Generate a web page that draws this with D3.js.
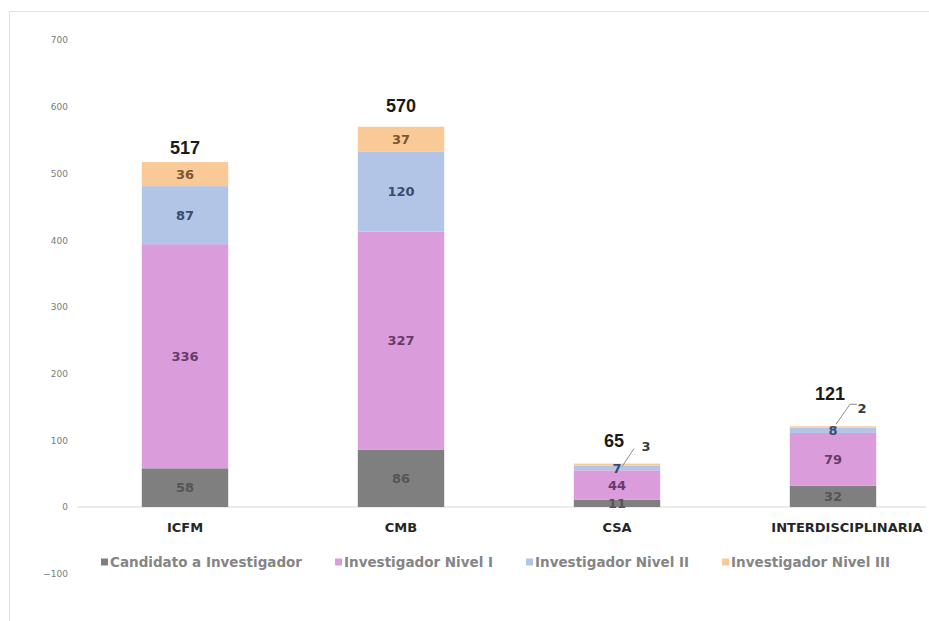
<!DOCTYPE html>
<html>
<head>
<meta charset="utf-8">
<script src="https://cdn.jsdelivr.net/npm/d3@7"></script>
<style>
  body { margin: 0; background: #fff; }
  svg { display: block; }
</style>
</head>
<body>
<svg id="chart" width="929" height="621"></svg>
<script>
// data
var categories = ["ICFM", "CMB", "CSA", "INTERDISCIPLINARIA"];
var series = ["Candidato a Investigador", "Investigador Nivel I", "Investigador Nivel II", "Investigador Nivel III"];
var candidato = [58, 86, 11, 32];
var nivel1 = [336, 327, 44, 79];
var nivel2 = [87, 120, 7, 8];
var nivel3 = [36, 37, 3, 2];
var totals = [517, 570, 65, 121];
var yTicks = [-100, 0, 100, 200, 300, 400, 500, 600, 700];

var colors = ["#7f7f7f", "#da9cdb", "#b3c5e6", "#f9ca98"];
var textColors = ["#555555", "#663d6a", "#3b4b6d", "#7a5730"];

var svg = d3.select("#chart");

// build table for stack
var table = categories.map(function(c, i) {
  return {cat: c, s0: candidato[i], s1: nivel1[i], s2: nivel2[i], s3: nivel3[i], total: totals[i]};
});
var stack = d3.stack().keys(["s0", "s1", "s2", "s3"])(table);

// scales
var x = d3.scaleBand()
    .domain(categories)
    .range([77, 941])
    .paddingInner(0.6)
    .paddingOuter(0.3);
var y = d3.scaleLinear()
    .domain([-100, 700])
    .range([573.7, 40]);

// outer border
svg.append("rect")
    .attr("x", 9.5).attr("y", 11.5)
    .attr("width", 940).attr("height", 640)
    .attr("fill", "none")
    .attr("stroke", "#e3e3e3");

// y axis labels only
var yAxis = svg.append("g")
    .attr("transform", "translate(72,0)")
    .call(d3.axisLeft(y).tickValues(yTicks).tickSize(0).tickPadding(4));
yAxis.select(".domain").remove();
yAxis.selectAll("text")
    .attr("fill", "#7a7a7a")
    .style("font-family", "DejaVu Sans")
    .style("font-size", "9px");

// zero line
svg.append("line")
    .attr("x1", 77).attr("x2", 926)
    .attr("y1", y(0)).attr("y2", y(0))
    .attr("stroke", "#d9d9d9")
    .attr("stroke-width", 1);

// bars
var layers = svg.selectAll("g.layer")
    .data(stack)
    .enter().append("g")
    .attr("class", "layer")
    .attr("fill", function(d, i) { return colors[i]; });

layers.selectAll("rect")
    .data(function(d) { return d; })
    .enter().append("rect")
    .attr("x", function(d) { return x(d.data.cat); })
    .attr("y", function(d) { return y(d[1]); })
    .attr("width", x.bandwidth())
    .attr("height", function(d) { return y(d[0]) - y(d[1]); });

// segment labels (small ones on CSA / INTERDISCIPLINARIA top get a callout)
stack.forEach(function(layer, li) {
  layer.forEach(function(d, ci) {
    var v = d[1] - d[0];
    var cx = x(d.data.cat) + x.bandwidth() / 2;
    if (li == 3 && v < 5) {
      // callout label
      var top = y(d[1]);
      svg.append("text")
        .attr("x", cx + 29).attr("y", top - 13)
        .attr("text-anchor", "middle")
        .style("font-family", "DejaVu Sans")
        .style("font-weight", "bold")
        .style("font-size", "13px")
        .attr("fill", "#3a3a3a")
        .text(v);
      var pts = ci == 2
        ? [[cx + 17, top - 15], [cx + 5, top + 3]]
        : [[cx + 24, top - 22], [cx + 17, top - 22], [cx + 3, top - 2]];
      svg.append("path")
        .attr("d", d3.line()(pts))
        .attr("fill", "none")
        .attr("stroke", "#8c8c8c")
        .attr("stroke-width", 1);
      return;
    }
    svg.append("text")
      .attr("x", cx)
      .attr("y", (y(d[0]) + y(d[1])) / 2)
      .attr("dy", "0.36em")
      .attr("text-anchor", "middle")
      .style("font-family", "DejaVu Sans")
      .style("font-weight", "bold")
      .style("font-size", "13px")
      .attr("fill", textColors[li])
      .text(v);
  });
});

// totals
var totalOffset = [8, 15, 17, 26];
svg.selectAll("text.total")
    .data(table)
    .enter().append("text")
    .attr("class", "total")
    .attr("x", function(d) { return x(d.cat) + x.bandwidth() / 2 - (d.total < 200 ? 3 : 0); })
    .attr("y", function(d, i) { return y(d.total) - totalOffset[i]; })
    .attr("text-anchor", "middle")
    .style("font-family", "Liberation Sans")
    .style("font-weight", "bold")
    .style("font-size", "18px")
    .attr("fill", "#1a1a1a")
    .text(function(d) { return d.total; });

// category labels (the long one sits a bit right, like in the original)
svg.selectAll("text.cat")
    .data(categories)
    .enter().append("text")
    .attr("class", "cat")
    .attr("x", function(d, i) { return x(d) + x.bandwidth() / 2 + (i == 3 ? 14 : 0); })
    .attr("y", y(0) + 25)
    .attr("text-anchor", "middle")
    .style("font-family", "DejaVu Sans")
    .style("font-weight", "bold")
    .style("font-size", "13px")
    .attr("fill", "#262626")
    .text(function(d) { return d; });

// legend
var legend = svg.append("g").attr("transform", "translate(101,562)");
var lx = 0;
series.forEach(function(s, i) {
  var g = legend.append("g").attr("transform", "translate(" + lx + ",0)");
  g.append("rect")
    .attr("x", 0).attr("y", -3.5)
    .attr("width", 7).attr("height", 7)
    .attr("fill", colors[i]);
  var t = g.append("text")
    .attr("x", 9).attr("y", 0)
    .attr("dy", "0.35em")
    .style("font-family", "DejaVu Sans")
    .style("font-weight", "bold")
    .style("font-size", "13.5px")
    .attr("fill", "#858585")
    .text(s);
  lx += 9 + t.node().getComputedTextLength() + 33;
});
</script>
</body>
</html>
